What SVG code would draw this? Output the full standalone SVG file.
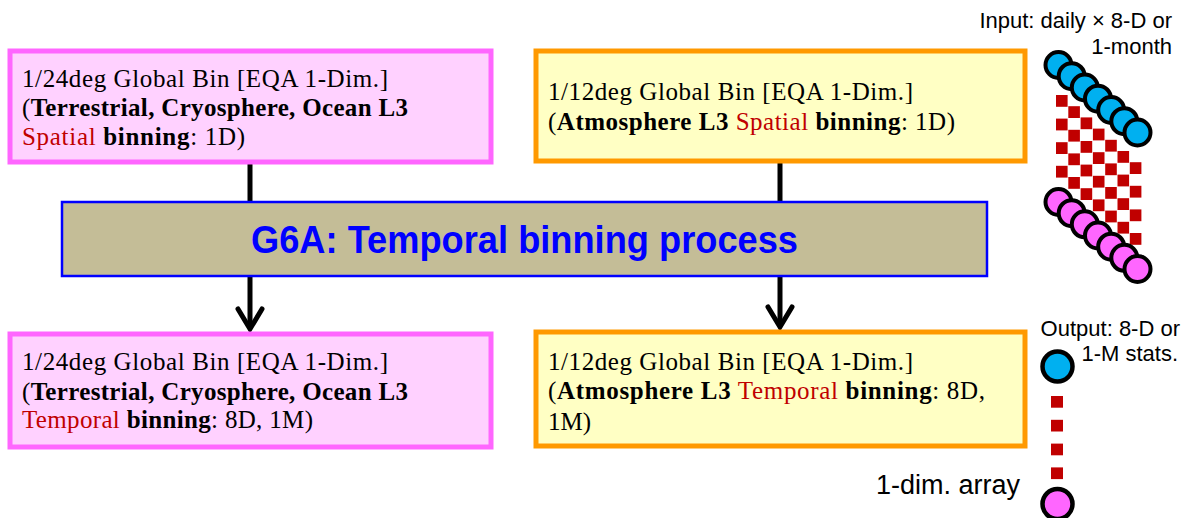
<svg xmlns="http://www.w3.org/2000/svg" width="1184" height="518" viewBox="0 0 1184 518">
<style>
.pinkbox{fill:#FFD1FF;stroke:#FF66FF;stroke-width:5}
.yelbox{fill:#FFFFC4;stroke:#FF9900;stroke-width:5}
.proc{fill:#C4BD97;stroke:#0000FF;stroke-width:2.5}
.t{font-family:"Liberation Serif","Times New Roman",serif;font-size:25px;fill:#000}
.b{font-weight:bold}
.r{fill:#C00000}
.lbl{font-family:"Liberation Sans",Arial,sans-serif;font-size:22px;fill:#000}
.ptitle{font-family:"Liberation Sans",Arial,sans-serif;font-size:38px;font-weight:bold;fill:#0000FF}
.conn{stroke:#000;stroke-width:5;fill:none}
.head{stroke:#000;stroke-width:5;fill:none;stroke-linecap:round;stroke-linejoin:miter}
.cb{fill:#00B0F0;stroke:#000;stroke-width:4}
.cp{fill:#FF66FF;stroke:#000;stroke-width:4}
.sq{fill:#C00000}
</style>
<g id="connectors">
<line class="conn" x1="250" y1="164" x2="250" y2="202"/>
<line class="conn" x1="780" y1="163" x2="780" y2="202"/>
<line class="conn" x1="250" y1="276" x2="250" y2="329"/>
<polyline class="head" points="238,309 250,329 262,309"/>
<line class="conn" x1="780" y1="276" x2="780" y2="327"/>
<polyline class="head" points="768,307 780,327 792,307"/>
</g>
<g id="box-in-1">
<rect class="pinkbox" x="10" y="51" width="481" height="111"/>
<text class="t" x="22" y="87" textLength="366" lengthAdjust="spacing">1/24deg Global Bin [EQA 1-Dim.]</text>
<text class="t" x="22" y="116" textLength="386" lengthAdjust="spacing">(<tspan class="b">Terrestrial, Cryosphere, Ocean L3</tspan></text>
<text class="t" x="22" y="145" textLength="223" lengthAdjust="spacing"><tspan class="r">Spatial</tspan> <tspan class="b">binning</tspan>: 1D)</text>
</g>
<g id="box-in-2">
<rect class="yelbox" x="536" y="51" width="489" height="110"/>
<text class="t" x="548" y="100" textLength="365" lengthAdjust="spacing">1/12deg Global Bin [EQA 1-Dim.]</text>
<text class="t" x="548" y="130" textLength="407" lengthAdjust="spacing">(<tspan class="b">Atmosphere L3</tspan> <tspan class="r">Spatial</tspan> <tspan class="b">binning</tspan>: 1D)</text>
</g>
<g id="process">
<rect class="proc" x="62" y="202" width="925" height="74"/>
<text class="ptitle" x="251" y="253" textLength="547" lengthAdjust="spacingAndGlyphs">G6A: Temporal binning process</text>
</g>
<g id="box-out-1">
<rect class="pinkbox" x="10" y="334" width="481" height="113"/>
<text class="t" x="22" y="370" textLength="366" lengthAdjust="spacing">1/24deg Global Bin [EQA 1-Dim.]</text>
<text class="t" x="22" y="400" textLength="386" lengthAdjust="spacing">(<tspan class="b">Terrestrial, Cryosphere, Ocean L3</tspan></text>
<text class="t" x="22" y="428" textLength="291" lengthAdjust="spacing"><tspan class="r">Temporal</tspan> <tspan class="b">binning</tspan>: 8D, 1M)</text>
</g>
<g id="box-out-2">
<rect class="yelbox" x="536" y="332" width="489" height="114"/>
<text class="t" x="548" y="370" textLength="365" lengthAdjust="spacing">1/12deg Global Bin [EQA 1-Dim.]</text>
<text class="t" x="548" y="399" textLength="437" lengthAdjust="spacing">(<tspan class="b">Atmosphere L3</tspan> <tspan class="r">Temporal</tspan> <tspan class="b">binning</tspan>: 8D,</text>
<text class="t" x="548" y="430">1M)</text>
</g>
<g id="input-array">
<text class="lbl" x="1172" y="28" text-anchor="end">Input: daily × 8-D or</text>
<text class="lbl" x="1172" y="54" text-anchor="end">1-month</text>
<g id="checker">
<rect class="sq" x="1056" y="95" width="11.6" height="11.8"/><rect class="sq" x="1056" y="118.6" width="11.6" height="11.8"/><rect class="sq" x="1056" y="142.2" width="11.6" height="11.8"/><rect class="sq" x="1056" y="165.8" width="11.6" height="11.8"/>
<rect class="sq" x="1068.3" y="106.2" width="11.6" height="11.8"/><rect class="sq" x="1068.3" y="129.8" width="11.6" height="11.8"/><rect class="sq" x="1068.3" y="153.4" width="11.6" height="11.8"/><rect class="sq" x="1068.3" y="177" width="11.6" height="11.8"/>
<rect class="sq" x="1080.6" y="117.4" width="11.6" height="11.8"/><rect class="sq" x="1080.6" y="141" width="11.6" height="11.8"/><rect class="sq" x="1080.6" y="164.6" width="11.6" height="11.8"/><rect class="sq" x="1080.6" y="188.2" width="11.6" height="11.8"/>
<rect class="sq" x="1092.9" y="128.6" width="11.6" height="11.8"/><rect class="sq" x="1092.9" y="152.2" width="11.6" height="11.8"/><rect class="sq" x="1092.9" y="175.8" width="11.6" height="11.8"/><rect class="sq" x="1092.9" y="199.4" width="11.6" height="11.8"/>
<rect class="sq" x="1105.2" y="139.8" width="11.6" height="11.8"/><rect class="sq" x="1105.2" y="163.4" width="11.6" height="11.8"/><rect class="sq" x="1105.2" y="187" width="11.6" height="11.8"/><rect class="sq" x="1105.2" y="210.6" width="11.6" height="11.8"/>
<rect class="sq" x="1117.5" y="151" width="11.6" height="11.8"/><rect class="sq" x="1117.5" y="174.6" width="11.6" height="11.8"/><rect class="sq" x="1117.5" y="198.2" width="11.6" height="11.8"/><rect class="sq" x="1117.5" y="221.8" width="11.6" height="11.8"/>
<rect class="sq" x="1129.8" y="162.2" width="11.6" height="11.8"/><rect class="sq" x="1129.8" y="185.8" width="11.6" height="11.8"/><rect class="sq" x="1129.8" y="209.4" width="11.6" height="11.8"/><rect class="sq" x="1129.8" y="233" width="11.6" height="11.8"/>
</g>
<g id="blue-circles">
<circle class="cb" cx="1058.5" cy="65" r="13"/><circle class="cb" cx="1071.7" cy="76.2" r="13"/><circle class="cb" cx="1084.8" cy="87.5" r="13"/><circle class="cb" cx="1098" cy="98.7" r="13"/><circle class="cb" cx="1111.2" cy="110" r="13"/><circle class="cb" cx="1124.3" cy="121.2" r="13"/><circle class="cb" cx="1137.5" cy="132.5" r="13"/>
</g>
<g id="pink-circles">
<circle class="cp" cx="1058.5" cy="202" r="13"/><circle class="cp" cx="1071.7" cy="213.2" r="13"/><circle class="cp" cx="1084.8" cy="224.3" r="13"/><circle class="cp" cx="1098" cy="235.5" r="13"/><circle class="cp" cx="1111.2" cy="246.7" r="13"/><circle class="cp" cx="1124.3" cy="257.8" r="13"/><circle class="cp" cx="1137.5" cy="269" r="13"/>
</g>
</g>
<g id="output-array">
<text class="lbl" x="1180" y="336" text-anchor="end">Output: 8-D or</text>
<text class="lbl" x="1178" y="361" text-anchor="end">1-M stats.</text>
<text class="lbl" x="1020" y="494" text-anchor="end" style="font-size:27px">1-dim. array</text>
<rect class="sq" x="1051" y="396" width="12" height="11.7"/>
<rect class="sq" x="1051" y="419.8" width="12" height="11.7"/>
<rect class="sq" x="1051" y="443.6" width="12" height="11.7"/>
<rect class="sq" x="1051" y="467.4" width="12" height="11.7"/>
<circle class="cb" cx="1057.5" cy="366.5" r="15" style="stroke-width:4.5"/>
<circle class="cp" cx="1057.5" cy="504" r="15" style="stroke-width:4.5"/>
</g>
</svg>
